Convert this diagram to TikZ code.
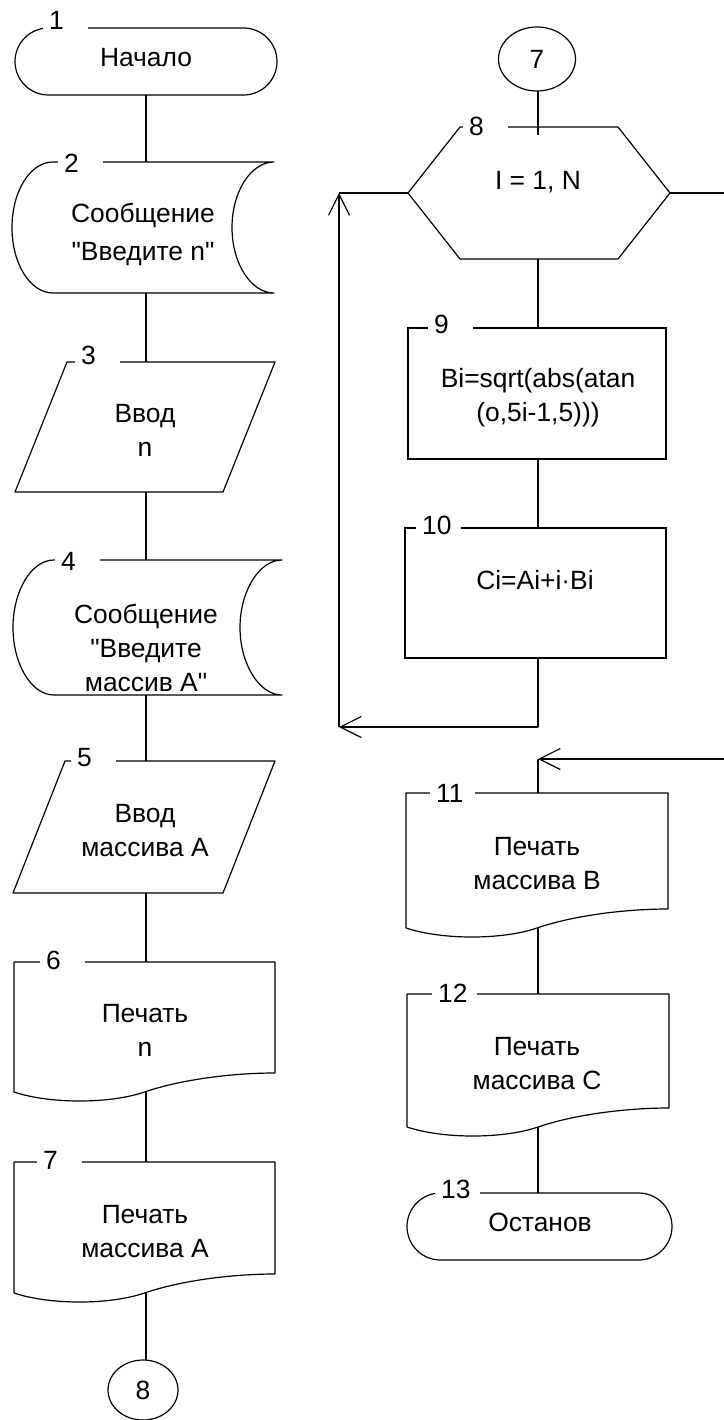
\documentclass[tikz,border=0pt]{standalone}
\usepackage{fontspec}
\setmainfont{Liberation Sans}
\usetikzlibrary{shapes.geometric,shapes.misc,arrows.meta,calc}

% outlines of the flowchart symbols, drawn around a named frame node
\newcommand\paraOutline[1]{%
  \draw[line] ($(#1.north west)+(52,0)$) -- (#1.north east)
    -- ($(#1.south east)-(52,0)$) -- (#1.south west) -- cycle;}
\newcommand\hexOutline[1]{%
  \draw[line] ($(#1.north west)+(52,0)$) -- ($(#1.north east)-(52,0)$)
    -- (#1.east) -- ($(#1.south east)-(52,0)$)
    -- ($(#1.south west)+(52,0)$) -- (#1.west) -- cycle;}
\newcommand\docOutline[1]{%
  \draw[line] (#1.south west) -- (#1.north west) -- (#1.north east)
    -- ($(#1.south east)+(0,-19)$)
    .. controls ($(#1.south east)+(-45,-19)$) and ($(#1.south)+(35,-12)$) .. (#1.south)
    .. controls ($(#1.south)+(-35,12)$) and ($(#1.south west)+(36,12)$) .. (#1.south west);}
\newcommand\dispOutline[1]{%
  \draw[line] ($(#1.north west)+(41,0)$) -- (#1.north east)
    .. controls ($(#1.north east)+(-23,0)$) and ($(#1.east)+(-42,-36)$) .. ($(#1.east)+(-42,0)$)
    .. controls ($(#1.east)+(-42,36)$) and ($(#1.south east)+(-23,0)$) .. (#1.south east)
    -- ($(#1.south west)+(41,0)$)
    .. controls ($(#1.south west)+(18,0)$) and ($(#1.west)+(0,36)$) .. (#1.west)
    .. controls ($(#1.west)+(0,-36)$) and ($(#1.north west)+(18,0)$) .. ($(#1.north west)+(41,0)$)
    -- cycle;}
\newcommand\qq{\textquotedbl}

\begin{document}
\begin{tikzpicture}[x=1pt,y=-1pt,
  line/.style={line width=1.2pt, line join=round},
  frame/.style 2 args={minimum width=#1, minimum height=#2, inner sep=0pt, outer sep=0pt},
  term/.style 2 args={rounded rectangle, draw, line width=1.2pt,
    minimum width=#1, minimum height=#2, inner sep=0pt, outer sep=0pt},
  conn/.style 2 args={ellipse, draw, line width=1.2pt, minimum width=#1,
    minimum height=#2, inner sep=0pt, outer sep=0pt, font=\fontsize{26.4}{30}\selectfont},
  txt/.style={align=center, inner sep=0pt, font=\fontsize{26.4}{34}\selectfont},
  num/.style={anchor=west, fill=white, inner xsep=6pt, inner ysep=1pt,
    text width=33pt, align=left, font=\fontsize{26.4}{30}\selectfont},
  flow/.style={line, -{Straight Barb[length=21pt,width=21pt]}}]

\fill[white] (0,0) rectangle (723,1420);
\useasboundingbox (0,0) rectangle (723,1420);

% column axes and loop corners
\coordinate (colL) at (146,0);
\coordinate (colR) at (538,0);
\coordinate (lpB) at (339,727);
\coordinate (lpT) at (339,193);
\coordinate (exT) at (732,193);
\coordinate (exB) at (732,759);
\coordinate (jn) at (538,759);

% ---------- left column ----------
\node[term={262pt}{67pt}] (b1) at (146,61.5) {};
\node[txt] (t1) at (146,58) {Начало};

\node[frame={262pt}{131pt}] (b2) at (143,227.5) {};
\dispOutline{b2}
\node[txt, font=\fontsize{26.4}{38}\selectfont] (t2) at (143,234) {Сообщение\\\qq Введите n\qq};

\node[frame={260pt}{130pt}] (b3) at (145,427) {};
\paraOutline{b3}
\node[txt] (t3) at (145,430.5) {Ввод\\n};

\node[frame={269pt}{135pt}] (b4) at (147.5,627.5) {};
\dispOutline{b4}
\node[txt] (t4) at (146,647.5) {Сообщение\\\qq Введите\\массив А\qq};

\node[frame={262pt}{132pt}] (b5) at (144,827) {};
\paraOutline{b5}
\node[txt] (t5) at (145,830.5) {Ввод\\массива А};

\node[frame={261pt}{130pt}] (b6) at (144.5,1027) {};
\docOutline{b6}
\node[txt] (t6) at (145,1030.5) {Печать\\n};

\node[frame={261pt}{131pt}] (b7) at (144.5,1227.5) {};
\docOutline{b7}
\node[txt] (t7) at (145,1231.5) {Печать\\массива А};

\node[conn={70pt}{60pt}] (c8) at (143,1390) {8};

% ---------- right column ----------
\node[conn={77pt}{64pt}] (c7) at (537,59) {7};

\node[frame={262pt}{132pt}] (b8) at (539,193) {};
\hexOutline{b8}
\node[txt] (t8) at (538,182) {I = 1, N};

\node[frame={258pt}{131pt}, draw, line width=1.2pt] (b9) at (537,393.5) {};
\node[txt] (t9) at (538,397.5) {Bi=sqrt(abs(atan\\(o,5i-1,5)))};

\node[frame={261pt}{130pt}, draw, line width=1.2pt] (b10) at (535.5,593) {};
\node[txt] (t10) at (535,580) {Ci=Ai+i·Bi};

\node[frame={262pt}{135pt}] (b11) at (537,860.5) {};
\docOutline{b11}
\node[txt] (t11) at (537,864) {Печать\\массива В};

\node[frame={262pt}{133pt}] (b12) at (538,1060.5) {};
\docOutline{b12}
\node[txt] (t12) at (537,1064) {Печать\\массива С};

\node[term={265pt}{67pt}] (b13) at (539.5,1226.5) {};
\node[txt] (t13) at (540,1222) {Останов};

% ---------- connectors ----------
\draw[line] (b1.south -| colL) -- (b2.north -| colL);
\draw[line] (b2.south -| colL) -- (b3.north -| colL);
\draw[line] (b3.south -| colL) -- (b4.north -| colL);
\draw[line] (b4.south -| colL) -- (b5.north -| colL);
\draw[line] (b5.south -| colL) -- (b6.north -| colL);
\draw[line] (b6.south -| colL) -- (b7.north -| colL);
\draw[line] (b7.south -| colL) -- (c8.north -| colL);

\draw[line] (c7.south -| colR) -- ($(b8.north -| colR)+(0,8)$);
\draw[line] (b8.south -| colR) -- (b9.north -| colR);
\draw[line] (b9.south -| colR) -- (b10.north -| colR);
\draw[flow] (b10.south -| colR) -- (lpB -| colR) -- (lpB);
\draw[flow] (lpB) -- (lpT);
\draw[line] (lpT) -- (b8.west);
\draw[flow] (b8.east) -- (exT) -- (exB) -- (jn);
\draw[line] (jn) -- (b11.north -| colR);
\draw[line] (b11.south -| colR) -- (b12.north -| colR);
\draw[line] (b12.south -| colR) -- (b13.north -| colR);

% ---------- block numbers ----------
\node[num] (n1) at (43,20) {1};
\node[num] (n2) at (58,163) {2};
\node[num] (n3) at (75,355) {3};
\node[num] (n4) at (55,561) {4};
\node[num] (n5) at (71,758) {5};
\node[num] (n6) at (40,960) {6};
\node[num] (n7) at (37,1160) {7};
\node[num] (n8) at (463,126) {8};
\node[num] (n9) at (428,324) {9};
\node[num] (n10) at (416,525) {10};
\node[num] (n11) at (430,793) {11};
\node[num] (n12) at (432,993) {12};
\node[num] (n13) at (435,1189) {13};
\end{tikzpicture}
\end{document}
